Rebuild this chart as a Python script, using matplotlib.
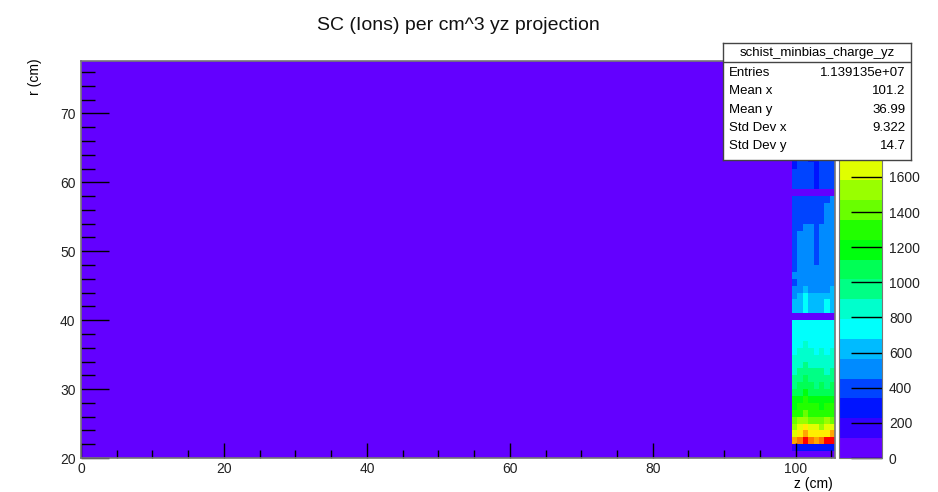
import colorsys
import numpy as np
import matplotlib
matplotlib.use("Agg")
import matplotlib.pyplot as plt
from matplotlib.colors import ListedColormap, BoundaryNorm
from matplotlib.ticker import MultipleLocator

plt.rcParams['font.family'] = ['Liberation Sans', 'DejaVu Sans']

# z bins (cm): one empty bin up to 99.5, then 8 filled columns
z_edges = [0, 99.5, 100.25, 101.0, 101.75, 102.5, 103.25, 104.0, 104.75, 105.5]
# r bins (cm), 1 cm wide from 20 to 78
r_edges = list(range(20, 79))

# ion density per row (r = 20 .. 77), 8 columns each
charge_rows = [
    [0, 0, 0, 0, 0, 0, 0, 0],                               # 20
    [220, 260, 250, 280, 240, 260, 250, 230],               # 21
    [1850, 2000, 2200, 1950, 1900, 1950, 2150, 2200],       # 22
    [1650, 1750, 1900, 1700, 1700, 1700, 1800, 1820],       # 23
    [1550, 1650, 1750, 1600, 1600, 1560, 1650, 1650],       # 24
    [1400, 1500, 1550, 1450, 1450, 1450, 1500, 1450],       # 25
    [1300, 1350, 1450, 1350, 1300, 1300, 1350, 1350],       # 26
    [1200, 1250, 1300, 1250, 1250, 1200, 1250, 1250],       # 27
    [1150, 1200, 1250, 1150, 1150, 1150, 1150, 1150],       # 28
    [1080, 1120, 1150, 1100, 1080, 1100, 1080, 1100],       # 29
    [1000, 1050, 1100, 1050, 1000, 1050, 1000, 1020],       # 30
    [950, 1000, 1050, 980, 960, 980, 950, 960],             # 31
    [900, 950, 980, 930, 910, 930, 900, 920],               # 32
    [860, 900, 920, 880, 870, 880, 860, 870],               # 33
    [820, 860, 880, 840, 830, 840, 820, 830],               # 34
    [780, 820, 840, 800, 790, 800, 790, 800],               # 35
    [740, 790, 800, 770, 760, 770, 750, 760],               # 36
    [720, 760, 770, 740, 730, 740, 720, 730],               # 37
    [700, 730, 740, 720, 710, 720, 700, 710],               # 38
    [690, 720, 720, 710, 700, 700, 690, 700],               # 39
    [0, 0, 0, 0, 0, 0, 0, 0],                               # 40
    [600, 620, 720, 620, 600, 640, 700, 640],               # 41
    [580, 600, 700, 600, 590, 610, 690, 620],               # 42
    [560, 590, 690, 590, 570, 600, 620, 600],               # 43
    [470, 560, 600, 560, 540, 560, 560, 570],               # 44
    [430, 530, 560, 520, 520, 540, 530, 540],               # 45
    [480, 500, 540, 500, 490, 510, 500, 500],               # 46
    [440, 490, 520, 500, 470, 500, 490, 500],               # 47
    [430, 490, 510, 490, 430, 500, 480, 490],               # 48
    [420, 480, 500, 480, 410, 490, 480, 490],               # 49
    [430, 480, 500, 480, 420, 490, 470, 480],               # 50
    [420, 470, 490, 470, 430, 480, 470, 480],               # 51
    [410, 460, 480, 460, 440, 470, 460, 470],               # 52
    [400, 450, 470, 460, 430, 470, 460, 470],               # 53
    [370, 390, 400, 420, 410, 430, 480, 490],               # 54
    [360, 380, 400, 410, 400, 420, 470, 480],               # 55
    [350, 370, 390, 410, 390, 420, 460, 470],               # 56
    [340, 360, 390, 400, 380, 410, 450, 460],               # 57
    [0, 0, 0, 0, 0, 0, 0, 0],                               # 58
    [380, 400, 410, 400, 330, 400, 410, 420],               # 59
    [370, 390, 400, 390, 320, 390, 400, 410],               # 60
    [360, 380, 390, 380, 310, 380, 390, 400],               # 61
    [330, 370, 380, 370, 300, 370, 380, 390],               # 62
    [320, 360, 370, 300, 300, 360, 370, 380],               # 63
    [310, 350, 360, 350, 300, 350, 360, 370],               # 64
    [300, 340, 350, 340, 290, 340, 350, 360],               # 65
    [300, 330, 340, 330, 290, 330, 340, 350],               # 66
    [290, 320, 330, 320, 280, 320, 330, 340],               # 67
    [290, 310, 320, 310, 280, 310, 320, 330],               # 68
    [280, 300, 310, 300, 270, 300, 310, 320],               # 69
    [280, 300, 300, 300, 270, 300, 300, 310],               # 70
    [270, 290, 300, 290, 260, 290, 300, 300],               # 71
    [270, 280, 290, 280, 260, 280, 290, 300],               # 72
    [260, 280, 290, 280, 250, 280, 280, 290],               # 73
    [260, 270, 280, 270, 250, 270, 280, 290],               # 74
    [250, 270, 280, 270, 240, 270, 270, 280],               # 75
    [250, 260, 270, 260, 240, 260, 270, 280],               # 76
    [240, 260, 270, 260, 230, 260, 260, 270],               # 77
]

z_max = 2260
n_levels = 20
cb_ticks = list(range(0, 2300, 200))

stat_names = ['Entries', 'Mean x', 'Mean y', 'Std Dev x', 'Std Dev y']
stat_values = ['1.139135e+07', '101.2', '36.99', '9.322', '14.7']

# ROOT "pretty" violet->red palette, 20 contours
colors = []
for i in range(n_levels):
    idx = int((i + 0.99) * 50 / n_levels)
    hue = max(280 - (idx + 1) * 5.6, 0)
    colors.append(colorsys.hls_to_rgb(hue / 360.0, 0.5, 1.0))
cmap = ListedColormap(colors)
levels = np.linspace(0, z_max, n_levels + 1)
norm = BoundaryNorm(levels, cmap.N)

grid = np.array(charge_rows, dtype=float)
full = np.zeros((grid.shape[0], len(z_edges) - 1))
full[:, 1:] = grid

W, H = 938, 492
fig = plt.figure(figsize=(W / 100, H / 100), dpi=100)


def px_axes(x0, y0, x1, y1):
    return fig.add_axes([x0 / W, 1 - y1 / H, (x1 - x0) / W, (y1 - y0) / H])


ax = px_axes(81, 61, 835, 458)
mesh = ax.pcolormesh(z_edges, r_edges, full, cmap=cmap, norm=norm)
ax.set_xlim(0, 105.5)
ax.set_ylim(20, 77.6)

ax.xaxis.set_major_locator(MultipleLocator(20))
ax.xaxis.set_minor_locator(MultipleLocator(5))
ax.yaxis.set_major_locator(MultipleLocator(10))
ax.yaxis.set_minor_locator(MultipleLocator(2))
ax.tick_params(axis='x', which='major', direction='in', length=11, width=1,
               labelsize=10, pad=3, labelcolor='#222222')
ax.tick_params(axis='x', which='minor', direction='in', length=6, width=1)
ax.tick_params(axis='y', which='major', direction='in', length=20, width=1,
               labelsize=10, pad=4, labelcolor='#222222')
ax.tick_params(axis='y', which='minor', direction='in', length=10, width=1)
for s in ax.spines.values():
    s.set_color('#777777')
    s.set_linewidth(1.2)

fig.text(458 / W, 1 - 25 / H, 'SC (Ions) per cm^3 yz projection',
         ha='center', va='center', fontsize=14, color='#111111')
fig.text(833 / W, 1 - 484 / H, 'z (cm)', ha='right', va='center', fontsize=10)
fig.text(35 / W, 1 - 58 / H, 'r (cm)', ha='center', va='top', rotation=90, fontsize=10)

cax = px_axes(839, 61, 882, 458)
cb = fig.colorbar(mesh, cax=cax, ticks=cb_ticks, spacing='proportional')
cb.outline.set_edgecolor('#777777')
cax.yaxis.set_ticks_position('right')
# labels above 1600 sit under the stats box in the reference
cax.set_yticklabels([str(t) if t <= 1600 else '' for t in cb_ticks])
cax.tick_params(direction='in', length=22, width=1, labelsize=10, pad=5,
                labelcolor='#222222')
cax.minorticks_off()

# statistics box
sb = px_axes(723, 43, 911, 160)
sb.set_xlim(0, 1)
sb.set_ylim(117, 0)
sb.set_xticks([])
sb.set_yticks([])
sb.set_facecolor('white')
for s in sb.spines.values():
    s.set_color('#444444')
    s.set_linewidth(1)
sb.axhline(19, color='#444444', lw=1)
sb.text(0.5, 10, 'schist_minbias_charge_yz', ha='center', va='center', fontsize=9.5)
for k, (name, val) in enumerate(zip(stat_names, stat_values)):
    yy = 30 + k * 18.3
    sb.text(0.03, yy, name, ha='left', va='center', fontsize=9.5)
    sb.text(0.97, yy, val, ha='right', va='center', fontsize=9.5)

fig.savefig('out.png', dpi=100)
